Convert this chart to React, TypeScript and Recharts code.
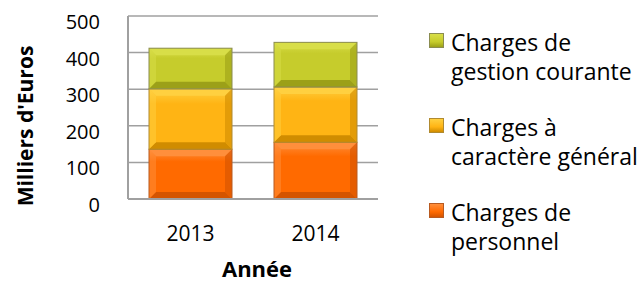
import React from "react";
import { BarChart, Bar, XAxis, YAxis, CartesianGrid } from "recharts";

const years = ["2013", "2014"];
const personnel = [136, 155];
const general = [165, 151];
const gestion = [111, 122];
const yTicks = [0, 100, 200, 300, 400, 500];

const seriesNames = {
  personnel: "Charges de personnel",
  general: "Charges à caractère général",
  gestion: "Charges de gestion courante",
};

const data = years.map((y, i) => ({
  year: y,
  personnel: personnel[i],
  general: general[i],
  gestion: gestion[i],
}));

const FONT = "'Open Sans', sans-serif";

const palette: Record<string, { main: string; light: string; dark: string; edge: string }> = {
  personnel: { main: "#FF6A00", light: "#FF8F3C", dark: "#D45400", edge: "#B85A20" },
  general: { main: "#FFB414", light: "#FFD040", dark: "#D08C00", edge: "#B08A30" },
  gestion: { main: "#C6CC2C", light: "#D8DE48", dark: "#9CA018", edge: "#8A8C50" },
};

const makeShape = (key: string) => (props: any) => {
  const { x, y, width, height } = props;
  const c = palette[key];
  const b = Math.min(7, height / 3);
  return (
    <g>
      <rect x={x} y={y} width={width} height={height} fill={`url(#grad-${key})`} />
      <polygon
        points={`${x},${y} ${x + width},${y} ${x + width - b},${y + b} ${x + b},${y + b}`}
        fill={c.light}
      />
      <polygon
        points={`${x},${y + height} ${x + width},${y + height} ${x + width - b},${y + height - b} ${x + b},${y + height - b}`}
        fill={c.dark}
      />
      <polygon
        points={`${x},${y} ${x + b},${y + b} ${x + b},${y + height - b} ${x},${y + height}`}
        fill={c.light}
        opacity={0.5}
      />
      <polygon
        points={`${x + width},${y} ${x + width - b},${y + b} ${x + width - b},${y + height - b} ${x + width},${y + height}`}
        fill={c.dark}
        opacity={0.6}
      />
      <rect x={x} y={y} width={width} height={height} fill="none" stroke={c.edge} strokeWidth={1} />
    </g>
  );
};

const YTick = (props: any) => {
  const { x, y, payload } = props;
  return (
    <text x={x} y={y + 13} textAnchor="end" fontFamily={FONT} fontSize={20} fill="#000">
      {payload.value}
    </text>
  );
};

const XTick = (props: any) => {
  const { x, y, payload } = props;
  return (
    <text x={x} y={y + 34} textAnchor="middle" fontFamily={FONT} fontSize={21} fill="#000">
      {payload.value}
    </text>
  );
};

const legendItems = [
  { key: "gestion", lines: ["Charges de", "gestion courante"] },
  { key: "general", lines: ["Charges à", "caractère général"] },
  { key: "personnel", lines: ["Charges de", "personnel"] },
];

const LegendBlock = () => (
  <div
    style={{
      position: "absolute",
      left: 429,
      top: 28,
      width: 215,
      fontFamily: FONT,
      fontSize: 23,
      lineHeight: "29px",
      color: "#000",
    }}
  >
    {legendItems.map((it) => (
      <div key={it.key} style={{ position: "relative", paddingLeft: 22, marginBottom: 27 }}>
        <span
          style={{
            position: "absolute",
            left: 0,
            top: 5,
            width: 13,
            height: 13,
            background: `linear-gradient(${palette[it.key].light}, ${palette[it.key].main} 60%, ${palette[it.key].dark})`,
            border: `1px solid ${palette[it.key].edge}`,
          }}
        />
        {it.lines.map((l, i) => (
          <div key={i} style={{ whiteSpace: "nowrap" }}>{l}</div>
        ))}
      </div>
    ))}
  </div>
);

export default function App() {
  return (
    <div style={{ position: "absolute", left: 0, top: 0, width: 644, height: 284, background: "#fff", overflow: "hidden" }}>
      <BarChart
        width={644}
        height={284}
        data={data}
        margin={{ top: 16, right: 266, bottom: 0, left: 0 }}
        barSize={83}
      >
        <defs>
          {Object.keys(palette).map((k) => (
            <linearGradient key={k} id={`grad-${k}`} x1="0" y1="0" x2="0" y2="1">
              <stop offset="0%" stopColor={palette[k].light} />
              <stop offset="25%" stopColor={palette[k].main} />
              <stop offset="100%" stopColor={palette[k].main} />
            </linearGradient>
          ))}
        </defs>
        <CartesianGrid vertical={false} stroke="#A0A0A0" strokeWidth={1.5} />
        <XAxis
          dataKey="year"
          height={85}
          tickLine={false}
          axisLine={{ stroke: "#A0A0A0", strokeWidth: 2 }}
          tick={<XTick />}
          label={(p: any) => (
            <text x={257} y={277} textAnchor="middle" fontFamily={FONT} fontWeight="bold" fontSize={22} fill="#000">
              Année
            </text>
          )}
        />
        <YAxis
          width={128}
          domain={[0, 500]}
          ticks={yTicks}
          tickLine={false}
          axisLine={{ stroke: "#A0A0A0", strokeWidth: 2 }}
          tick={<YTick />}
          tickMargin={22}
          label={(p: any) => (
            <text
              x={33}
              y={126}
              transform="rotate(-90, 33, 126)"
              textAnchor="middle"
              fontFamily={FONT}
              fontWeight="bold"
              fontSize={21}
              fill="#000"
            >
              Milliers d'Euros
            </text>
          )}
        />
        <Bar dataKey="personnel" name={seriesNames.personnel} stackId="a" isAnimationActive={false} shape={makeShape("personnel")} />
        <Bar dataKey="general" name={seriesNames.general} stackId="a" isAnimationActive={false} shape={makeShape("general")} />
        <Bar dataKey="gestion" name={seriesNames.gestion} stackId="a" isAnimationActive={false} shape={makeShape("gestion")} />
      </BarChart>
      <LegendBlock />
    </div>
  );
}
